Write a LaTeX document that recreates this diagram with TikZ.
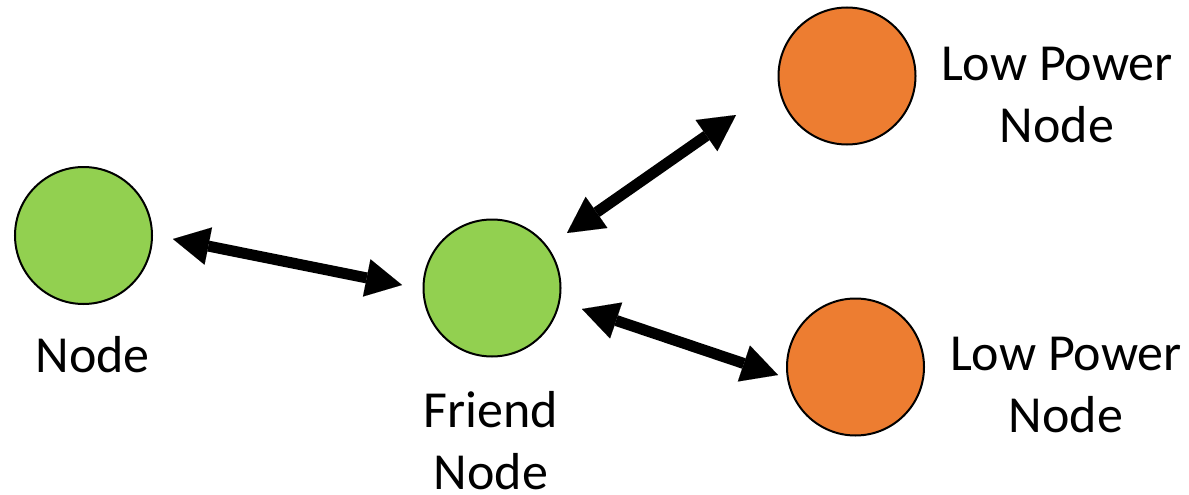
\documentclass[tikz,border=0pt]{standalone}
\usepackage{fontspec}
\setmainfont{Carlito}
\usetikzlibrary{arrows.meta}
\definecolor{nodegreen}{HTML}{92D050}
\definecolor{lporange}{HTML}{ED7D31}
\tikzset{
  dev/.style={circle, draw=black, line width=2pt, minimum size=137pt, inner sep=0pt},
  greendev/.style={dev, fill=nodegreen},
  orangedev/.style={dev, fill=lporange},
  lbl/.style={font=\fontsize{52pt}{62pt}\selectfont, align=center, anchor=base, inner sep=0pt},
  link/.style={line width=11pt, {Triangle[length=36pt,width=38pt,line width=0.01pt]}-{Triangle[length=36pt,width=38pt,line width=0.01pt]}}
}
\begin{document}
\begin{tikzpicture}[x=1pt,y=-1pt]
\useasboundingbox (0,0) rectangle (1189,495);
\node[greendev] (n) at (83.5,235.5) {};
\node[greendev] (f) at (492,288) {};
\node[orangedev] (lp1) at (847,76) {};
\node[orangedev] (lp2) at (855.5,367) {};
\node[lbl] (tn) at (92.5,372) {Node};
\node[lbl] (tf) at (491,489) {Friend\\Node};
\node[lbl] (tlp1) at (1057,142) {Low Power\\Node};
\node[lbl] (tlp2) at (1066,432) {Low Power\\Node};
\coordinate (a1s) at (173,239);
\coordinate (a1e) at (402,285);
\coordinate (a2s) at (567,233);
\coordinate (a2e) at (736,115);
\coordinate (a3s) at (582,309);
\coordinate (a3e) at (778,375);
\draw[link] (a1s) -- (a1e);
\draw[link] (a2s) -- (a2e);
\draw[link] (a3s) -- (a3e);
\end{tikzpicture}
\end{document}
